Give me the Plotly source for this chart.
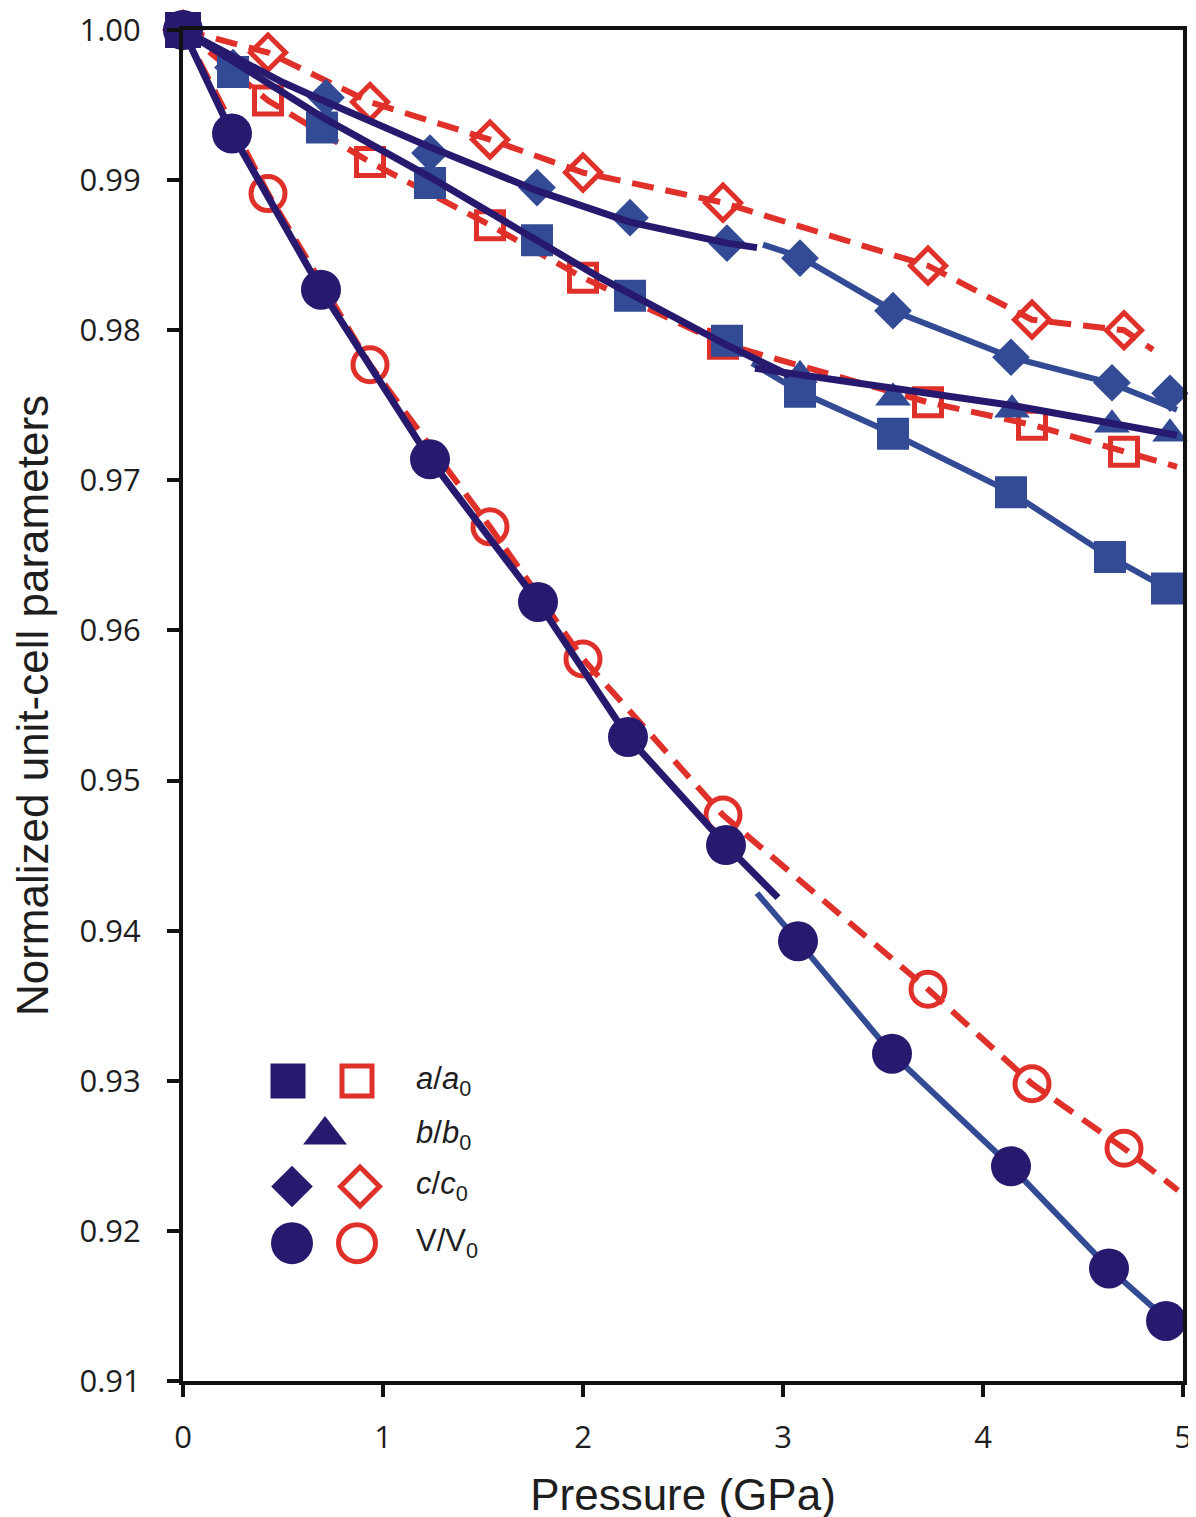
import plotly.graph_objects as go

# ---------------- data ----------------
# filled (blue) symbols
P_a_fill = [0.0, 0.25, 0.695, 1.235, 1.77, 2.235, 2.72, 3.085, 3.55, 4.14, 4.635, 4.92]
a_fill = [1.0, 0.9972, 0.9935, 0.9898, 0.9860, 0.9823, 0.9793, 0.9759, 0.9731, 0.9692, 0.9649, 0.9628]
P_b_fill = [3.085, 3.55, 4.145, 4.645, 4.935]
b_fill = [0.9770, 0.9755, 0.9747, 0.9737, 0.9731]
P_c_fill = [0.25, 0.715, 1.235, 1.77, 2.235, 2.72, 3.085, 3.55, 4.14, 4.645, 4.935]
c_fill = [0.9975, 0.9955, 0.9918, 0.9895, 0.9875, 0.9858, 0.9848, 0.9813, 0.9782, 0.9765, 0.9758]
P_V_fill = [0.0, 0.245, 0.69, 1.235, 1.775, 2.225, 2.715, 3.075, 3.545, 4.14, 4.63, 4.915]
V_fill = [1.0, 0.9931, 0.9827, 0.9714, 0.9619, 0.9529, 0.9457, 0.9393, 0.9318, 0.9243, 0.9175, 0.9140]

# open (red) symbols
P_open = [0.0, 0.425, 0.935, 1.535, 2.0, 2.7, 3.725, 4.245, 4.705]
a_open = [1.0, 0.9953, 0.9912, 0.9870, 0.9835, 0.9791, 0.9752, 0.9737, 0.9719]
c_open = [1.0, 0.9985, 0.9952, 0.9927, 0.9905, 0.9885, 0.9843, 0.9807, 0.9800]
V_open = [1.0, 0.9891, 0.9777, 0.9669, 0.9581, 0.9477, 0.9361, 0.9298, 0.9255]

# red dashed curves
P_a_red = [0.0, 0.425, 0.935, 1.535, 2.0, 2.7, 3.2, 3.725, 4.245, 4.705, 4.97]
a_red = [1.0, 0.9953, 0.9912, 0.9870, 0.9835, 0.9791, 0.9772, 0.9752, 0.9737, 0.9719, 0.9709]
P_c_red = [0.0, 0.425, 0.935, 1.535, 2.0, 2.7, 3.725, 4.245, 4.705, 4.85]
c_red = [1.0, 0.9985, 0.9952, 0.9927, 0.9905, 0.9885, 0.9843, 0.9807, 0.9800, 0.9787]
P_V_red = [0.0, 0.425, 0.935, 1.535, 2.0, 2.7, 3.725, 4.245, 4.705, 4.975]
V_red = [1.0, 0.9891, 0.9777, 0.9669, 0.9581, 0.9477, 0.9361, 0.9298, 0.9255, 0.9227]

# low-pressure fits (thick dark navy)
P_a_fitL = [0.0, 0.695, 1.235, 1.77, 2.085, 2.72, 3.03]
a_fitL = [1.0, 0.9942, 0.9902, 0.9860, 0.9835, 0.9790, 0.9770]
P_c_fitL = [0.0, 0.5, 0.7, 1.235, 1.77, 2.235, 2.72, 2.87]
c_fitL = [1.0, 0.9965, 0.9953, 0.9922, 0.9893, 0.9872, 0.9858, 0.9855]
P_V_fitL = [0.0, 0.245, 0.69, 1.235, 1.775, 2.225, 2.715, 2.975]
V_fitL = [1.0, 0.9931, 0.9827, 0.9714, 0.9619, 0.9529, 0.9457, 0.9422]
P_b_fitH = [2.86, 3.5, 4.14, 4.6, 4.97]
b_fitH = [0.97747, 0.9762, 0.9750, 0.9739, 0.9730]

# high-pressure fits (medium blue)
P_a_fitH = [2.845, 3.085, 3.55, 4.14, 4.635, 4.92]
a_fitH = [0.9778, 0.9759, 0.9731, 0.9692, 0.9649, 0.9628]
P_c_fitH = [2.9, 3.085, 3.55, 4.14, 4.635, 4.97]
c_fitH = [0.9857, 0.9849, 0.9813, 0.9782, 0.9765, 0.9747]
P_V_fitH = [2.87, 3.075, 3.545, 4.14, 4.63, 4.97]
V_fitH = [0.9425, 0.9393, 0.9318, 0.9243, 0.9175, 0.9135]

y_ticks = [0.91, 0.92, 0.93, 0.94, 0.95, 0.96, 0.97, 0.98, 0.99, 1.00]
x_ticks = [0, 1, 2, 3, 4, 5]

legend_labels = ["<i>a</i>/<i>a</i><sub>0</sub>", "<i>b</i>/<i>b</i><sub>0</sub>",
                 "<i>c</i>/<i>c</i><sub>0</sub>", "V/V<sub>0</sub>"]

# ---------------- styles ----------------
NAVY = "#271a6e"
BLUE = "#334b94"
RED = "#e0302a"
FONT = "Liberation Sans"
TICKFONT = "Open Sans"
TXT = "#1e1e1e"

fig = go.Figure()

def line(x, y, color, width, dash="solid"):
    fig.add_trace(go.Scatter(x=x, y=y, mode="lines", line=dict(color=color, width=width, dash=dash),
                             showlegend=False, hoverinfo="skip"))

def marks(x, y, symbol, size, color, lw=0, lcolor=None):
    fig.add_trace(go.Scatter(x=x, y=y, mode="markers", cliponaxis=False, showlegend=False,
                             marker=dict(symbol=symbol, size=size, color=color,
                                         line=dict(width=lw, color=lcolor or color))))

# red dashed curves and open markers
for xx, yy in [(P_a_red, a_red), (P_c_red, c_red), (P_V_red, V_red)]:
    line(xx, yy, RED, 6, "22px,12px")
marks(P_open, a_open, "square-open", 27, RED, 5)
marks(P_open, c_open, "diamond-open", 27, RED, 5)
marks(P_open, V_open, "circle-open", 34, RED, 5)

# medium blue high-pressure lines
for xx, yy in [(P_a_fitH, a_fitH), (P_c_fitH, c_fitH), (P_V_fitH, V_fitH)]:
    line(xx, yy, BLUE, 6)

# blue filled markers
marks(P_a_fill[1:], a_fill[1:], "square", 32, BLUE)
marks(P_c_fill, c_fill, "diamond", 29, BLUE)
marks(P_b_fill, b_fill, "triangle-up", 31, BLUE)

# thick navy fits
for xx, yy in [(P_a_fitL, a_fitL), (P_c_fitL, c_fitL), (P_V_fitL, V_fitL), (P_b_fitH, b_fitH)]:
    line(xx, yy, NAVY, 7)

marks(P_V_fill, V_fill, "circle", 40, NAVY)
marks(P_a_fill[:1], a_fill[:1], "square", 36, NAVY)

# ---------------- legend (drawn on an overlay axis) ----------------
leg_col_fill = [0.105, 0.142, 0.109, 0.109]
leg_col_open = [0.174, None, 0.177, 0.174]
leg_rows = [0.222, 0.182, 0.144, 0.102]
fill_syms = ["square", "triangle-up", "diamond", "circle"]
fill_sizes = [35, 38, 32, 42]
open_syms = ["square-open", None, "diamond-open", "circle-open"]
open_sizes = [30, None, 30, 37]
for i in range(4):
    fig.add_trace(go.Scatter(x=[leg_col_fill[i]], y=[leg_rows[i]], mode="markers", xaxis="x2", yaxis="y2",
                             showlegend=False, cliponaxis=False,
                             marker=dict(symbol=fill_syms[i], size=fill_sizes[i], color=NAVY, line=dict(width=0))))
    if open_syms[i]:
        fig.add_trace(go.Scatter(x=[leg_col_open[i]], y=[leg_rows[i]], mode="markers", xaxis="x2", yaxis="y2",
                                 showlegend=False, cliponaxis=False,
                                 marker=dict(symbol=open_syms[i], size=open_sizes[i], color=RED,
                                             line=dict(width=5, color=RED))))
    fig.add_annotation(x=0.231, y=leg_rows[i], xref="x2", yref="y2", text=legend_labels[i],
                       showarrow=False, xanchor="left", yanchor="middle",
                       font=dict(family=FONT, size=31, color=TXT))

# the page body adds an 8px offset, so margins are reduced by 8 on left/top
fig.update_layout(
    width=1196, height=1517,
    margin=dict(l=175, r=21, t=22, b=144, autoexpand=False),
    plot_bgcolor="white", paper_bgcolor="white",
    font=dict(family=FONT, color=TXT),
    xaxis=dict(range=[0, 5], tickvals=x_ticks, ticktext=[str(t) for t in x_ticks],
               showgrid=False, zeroline=False, showline=True, linecolor="#111111", linewidth=4,
               mirror=True, ticks="outside", ticklen=12, tickwidth=4, tickcolor="#111111",
               ticklabelstandoff=14, ticklabeloverflow="allow", automargin=False,
               tickfont=dict(size=31, family=TICKFONT, color=TXT),
               title=dict(text="Pressure (GPa)", font=dict(size=44, family=FONT, color=TXT), standoff=24)),
    yaxis=dict(range=[0.91, 1.00], tickvals=y_ticks, ticktext=[f"{t:.2f}" for t in y_ticks],
               showgrid=False, zeroline=False, showline=True, linecolor="#111111", linewidth=4,
               mirror=True, ticks="outside", ticklen=12, tickwidth=4, tickcolor="#111111",
               ticklabelstandoff=20, ticklabeloverflow="allow", automargin=False,
               tickfont=dict(size=31, family=TICKFONT, color=TXT),
               title=dict(text="Normalized unit-cell parameters", font=dict(size=44, family=FONT, color=TXT),
                          standoff=26)),
    xaxis2=dict(range=[0, 1], overlaying="x", visible=False, fixedrange=True),
    yaxis2=dict(range=[0, 1], overlaying="y", visible=False, fixedrange=True),
)

fig.write_html("out.html", config={"displayModeBar": False})
